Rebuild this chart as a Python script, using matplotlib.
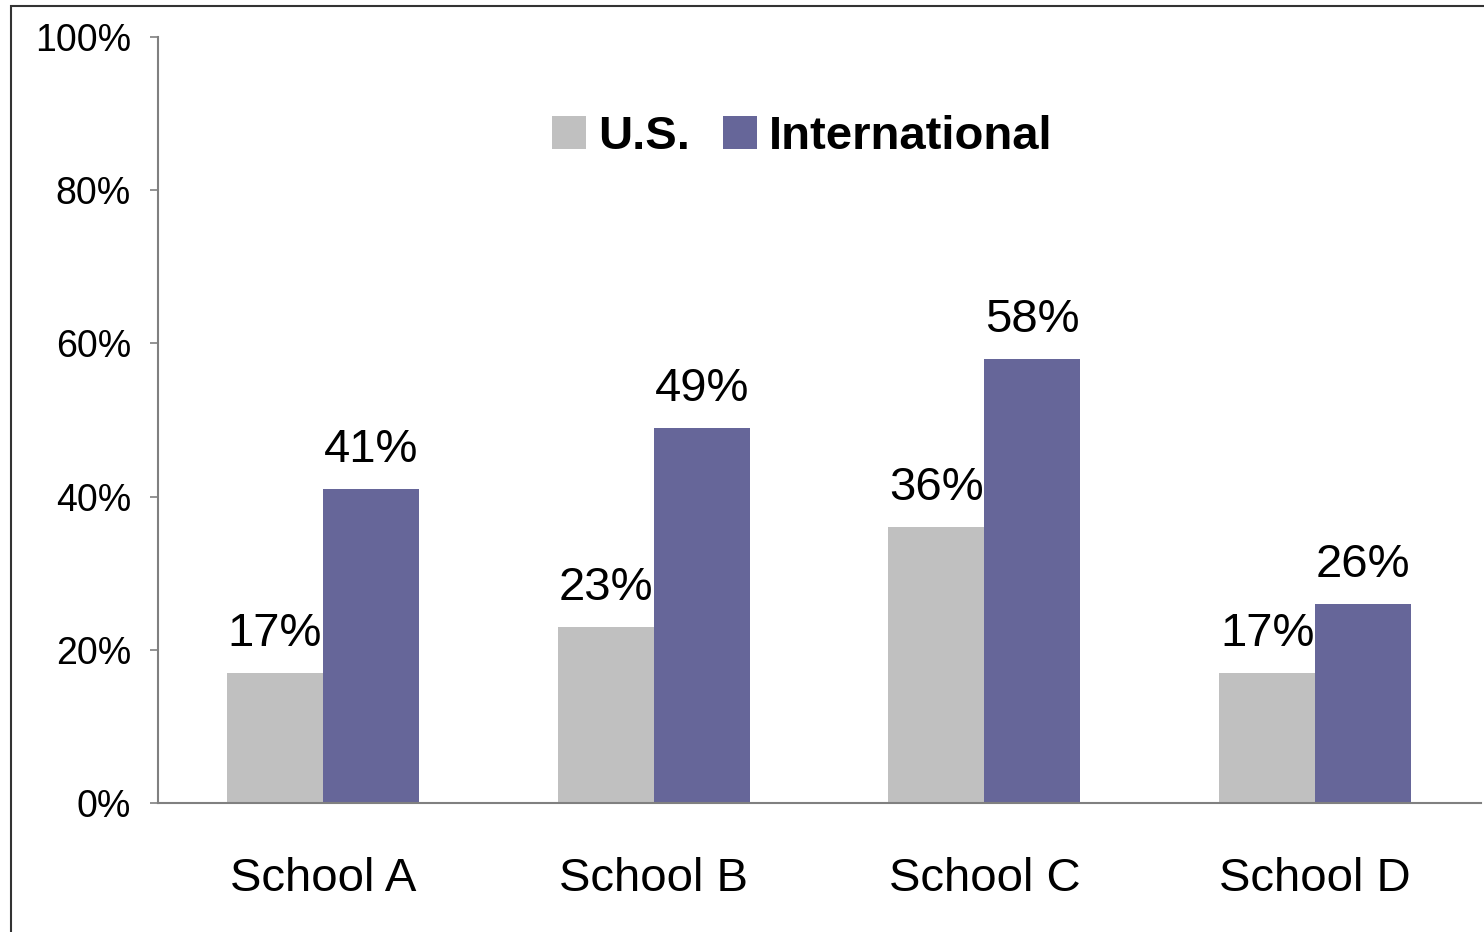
import matplotlib.pyplot as plt
from matplotlib.patches import Patch, Rectangle
import numpy as np

plt.rcParams['font.family'] = ['Liberation Sans', 'DejaVu Sans']

# data
schools = ['School A', 'School B', 'School C', 'School D']
us = [17, 23, 36, 17]
intl = [41, 49, 58, 26]
series_names = ['U.S.', 'International']
colors = ['#C0C0C0', '#666699']

fig = plt.figure(figsize=(14.84, 9.32), dpi=100)
ax = fig.add_axes([157.5 / 1484, 1 - 803 / 932, 1323 / 1484, 766 / 932])

x = np.arange(len(schools))
w = 0.29
b1 = ax.bar(x - w / 2, us, w, color=colors[0], zorder=2)
b2 = ax.bar(x + w / 2, intl, w, color=colors[1], zorder=2)

for bars, vals in ((b1, us), (b2, intl)):
    for rect, v in zip(bars, vals):
        ax.annotate('%d%%' % v, (rect.get_x() + rect.get_width() / 2, v),
                    xytext=(0, 19.5), textcoords='offset points',
                    ha='center', va='baseline', fontsize=34)

ax.set_xlim(-0.5, len(schools) - 0.5)
ax.set_ylim(0, 100)
ax.set_yticks(range(0, 101, 20))
ax.set_yticklabels(['%d%%' % t for t in range(0, 101, 20)])
ax.set_xticks(x)
ax.set_xticklabels(schools)

ax.tick_params(axis='y', length=6, width=1.2, color='#808080', pad=13, labelsize=27)
ax.tick_params(axis='x', length=0, pad=39, labelsize=34)

for s in ('top', 'right'):
    ax.spines[s].set_visible(False)
for s in ('left', 'bottom'):
    ax.spines[s].set_color('#808080')
    ax.spines[s].set_linewidth(1.5)

handles = [Patch(facecolor=c) for c in colors]
fig.legend(handles, series_names, loc='center', ncol=2, frameon=False,
           bbox_to_anchor=(802 / 1484, 1 - 137 / 932),
           prop={'weight': 'bold', 'size': 34},
           handlelength=0.72, handleheight=0.72, handletextpad=0.25,
           columnspacing=0.7, borderpad=0)

# outer frame of the picture
fig.patches.append(Rectangle((10.5 / 1484, -0.5), 2, 0.5 + 1 - 5.5 / 932,
                             transform=fig.transFigure, fill=False,
                             edgecolor='#333333', linewidth=1.5))

fig.savefig('out.png', dpi=100)
